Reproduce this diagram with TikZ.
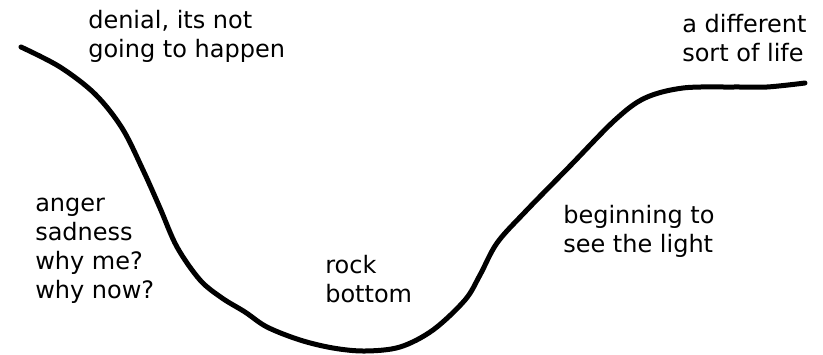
\documentclass[tikz,border=0pt]{standalone}
\usepackage{fontspec}
\setmainfont{DejaVu Sans}
\usetikzlibrary{positioning}
\begin{document}
\begin{tikzpicture}[
    x=0.75pt, y=-0.75pt,
    every node/.style={font=\fontsize{18}{21.75}\selectfont},
    stage/.style={anchor=base west, align=left, inner sep=0pt},
    grief/.style={line width=3.75pt, line cap=round, line join=round}
]
\useasboundingbox (0,0) rectangle (823,354);
% the curve
\draw[grief] plot[smooth, tension=0.55] coordinates {
    (21,47) (60,67) (95,94) (122,128) (143,170) (160,208)
    (177,247) (200,280) (222,298) (245,312) (267,327) (300,340) (333,348)
    (365,351) (400,347) (433,330) (465,300) (480,275) (497,243) (525,212)
    (570,166) (615,120) (645,98) (683,88) (733,87) (767,87) (805,83)};
% stages (anchored at the last line)
\node[stage] (denial) at (88,57) {denial, its not\\going to happen};
\node[stage] (newlife) at (682,61) {a different\\sort of life};
\node[stage] (anger) at (35,298) {anger\\sadness\\why me?\\why now?};
\node[stage] (rockbottom) at (325,302) {rock\\bottom};
\node[stage] (light) at (563,252) {beginning to\\see the light};
\end{tikzpicture}
\end{document}
